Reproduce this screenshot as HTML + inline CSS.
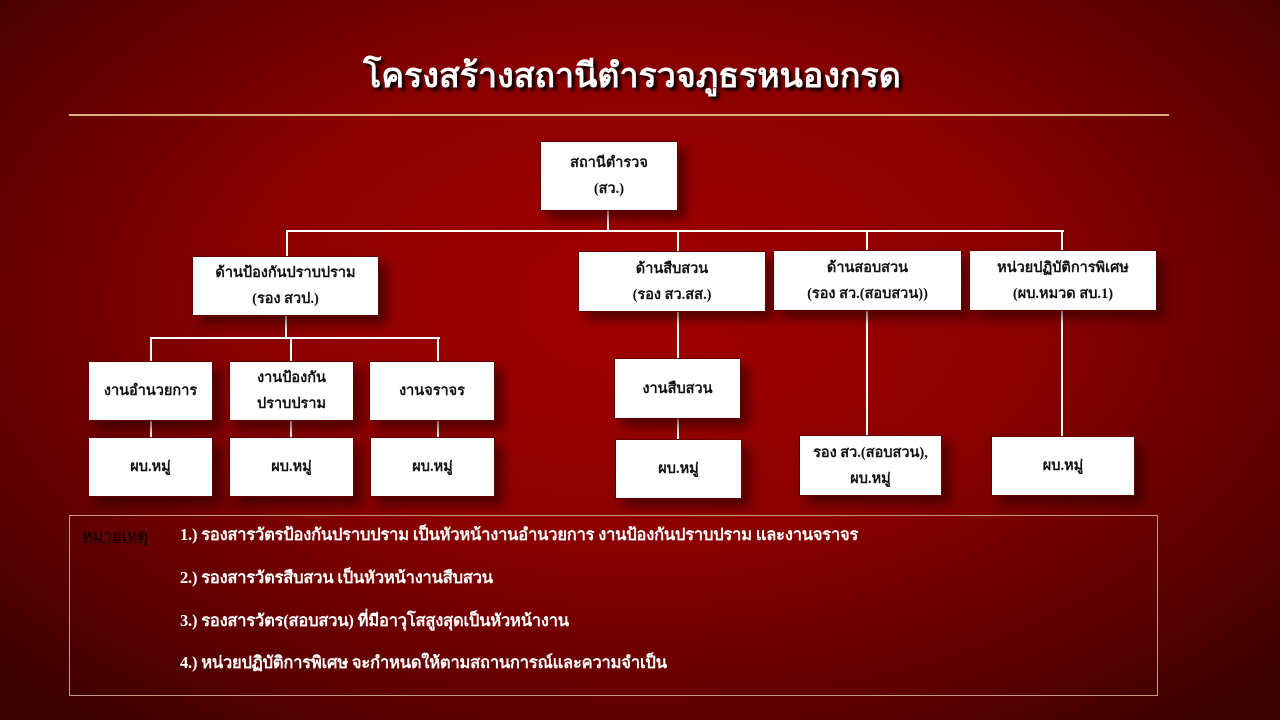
<!DOCTYPE html>
<html><head><meta charset="utf-8"><style>
body{margin:0;width:1280px;height:720px;overflow:hidden;background:radial-gradient(ellipse 70% 75% at 50% 42%,#a30000 0%,#8a0000 45%,#5a0000 80%,#3a0000 100%);font-family:"Liberation Serif","DejaVu Serif",serif;position:relative}
.b{position:absolute;background:#fff;border:1px solid #600;box-sizing:border-box;display:flex;flex-direction:column;justify-content:center;align-items:center;font-size:14.5px;font-weight:bold;color:#111;line-height:26px;box-shadow:8px 8px 10px rgba(40,0,0,.6);text-align:center}
.h,.v{position:absolute;background:#fff}
.h{height:2px}.v{width:2px}
.t{position:absolute;color:#fff;font-size:16.5px;font-weight:bold;left:180px;letter-spacing:-0.2px}
</style></head><body>
<div style="position:absolute;left:-8px;width:1280px;top:48px;text-align:center;color:#fff;font-size:34px;font-weight:bold;text-shadow:3px 3px 3px #000">โครงสร้างสถานีตำรวจภูธรหนองกรด</div>
<div style="position:absolute;left:69px;top:114px;width:1100px;height:2px;background:#d9b27a"></div>

<div class="v" style="left:607px;top:210px;height:22px"></div>
<div class="h" style="left:286px;top:230px;width:778px"></div>
<div class="v" style="left:286px;top:230px;height:27px"></div>
<div class="v" style="left:677px;top:230px;height:128px"></div>
<div class="v" style="left:866px;top:230px;height:205px"></div>
<div class="v" style="left:1061px;top:230px;height:206px"></div>
<div class="v" style="left:285px;top:315px;height:24px"></div>
<div class="h" style="left:150px;top:337px;width:290px"></div>
<div class="v" style="left:150px;top:337px;height:100px"></div>
<div class="v" style="left:290px;top:337px;height:100px"></div>
<div class="v" style="left:437px;top:337px;height:100px"></div>
<div class="v" style="left:677px;top:418px;height:22px"></div>

<div class="b" style="left:540px;top:141px;width:138px;height:70px">สถานีตำรวจ<br>(สว.)</div>
<div class="b" style="left:192px;top:256px;width:187px;height:60px">ด้านป้องกันปราบปราม<br>(รอง สวป.)</div>
<div class="b" style="left:578px;top:251px;width:188px;height:61px">ด้านสืบสวน<br>(รอง สว.สส.)</div>
<div class="b" style="left:773px;top:250px;width:189px;height:61px">ด้านสอบสวน<br>(รอง สว.(สอบสวน))</div>
<div class="b" style="left:969px;top:250px;width:188px;height:61px">หน่วยปฏิบัติการพิเศษ<br>(ผบ.หมวด สบ.1)</div>
<div class="b" style="left:88px;top:361px;width:125px;height:60px">งานอำนวยการ</div>
<div class="b" style="left:229px;top:361px;width:125px;height:60px">งานป้องกัน<br>ปราบปราม</div>
<div class="b" style="left:369px;top:361px;width:126px;height:60px">งานจราจร</div>
<div class="b" style="left:614px;top:358px;width:127px;height:61px">งานสืบสวน</div>
<div class="b" style="left:88px;top:437px;width:125px;height:60px">ผบ.หมู่</div>
<div class="b" style="left:229px;top:437px;width:125px;height:60px">ผบ.หมู่</div>
<div class="b" style="left:370px;top:437px;width:125px;height:60px">ผบ.หมู่</div>
<div class="b" style="left:615px;top:439px;width:127px;height:60px">ผบ.หมู่</div>
<div class="b" style="left:799px;top:435px;width:143px;height:61px">รอง สว.(สอบสวน),<br>ผบ.หมู่</div>
<div class="b" style="left:991px;top:436px;width:144px;height:60px">ผบ.หมู่</div>

<div style="position:absolute;left:69px;top:515px;width:1089px;height:181px;border:1px solid #c99a70;box-sizing:border-box"></div>
<div style="position:absolute;left:82px;top:524px;font-size:16px;font-weight:bold;color:#200;text-decoration:underline">หมายเหตุ</div>
<div class="t" style="top:522px">1.) รองสารวัตรป้องกันปราบปราม เป็นหัวหน้างานอำนวยการ งานป้องกันปราบปราม และงานจราจร</div>
<div class="t" style="top:565px">2.) รองสารวัตรสืบสวน เป็นหัวหน้างานสืบสวน</div>
<div class="t" style="top:608px">3.) รองสารวัตร(สอบสวน) ที่มีอาวุโสสูงสุดเป็นหัวหน้างาน</div>
<div class="t" style="top:650px">4.) หน่วยปฏิบัติการพิเศษ จะกำหนดให้ตามสถานการณ์และความจำเป็น</div>
</body></html>
